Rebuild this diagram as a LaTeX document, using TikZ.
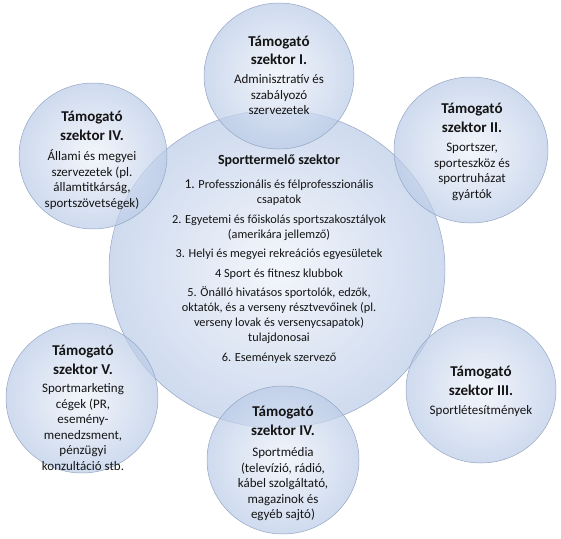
\documentclass[tikz,border=0pt]{standalone}
\usepackage{fontspec}
\setmainfont{Carlito}
\usetikzlibrary{shapes.geometric}
\definecolor{circin}{RGB}{238,242,250}
\definecolor{circout}{RGB}{186,203,231}
\definecolor{circline}{RGB}{150,166,194}
\definecolor{txtcol}{RGB}{20,20,20}
\begin{document}
\begin{tikzpicture}[x=1pt,y=-1pt,
  bubble/.style={ellipse, draw=circline, line width=0.5pt, inner color=circin, outer color=circout, fill opacity=0.7, draw opacity=1, inner sep=0pt},
  smalltxt/.style={align=center, inner sep=0pt, anchor=north, text=txtcol, font=\fontsize{13}{15.5}\selectfont},
  bigtxt/.style={align=center, inner sep=0pt, anchor=north, text=txtcol, font=\fontsize{12.3}{15}\selectfont}]
\useasboundingbox (0,0) rectangle (561,538);
\newcommand{\ttlfont}{\bfseries\fontsize{15}{15}\selectfont}
% circles
\node[bubble, minimum width=336pt, minimum height=318pt] (c0) at (277,269) {};
\node[bubble, minimum width=150pt, minimum height=146pt] (c1) at (279,76) {};
\node[bubble, minimum width=154pt, minimum height=146pt] (c2) at (471,150) {};
\node[bubble, minimum width=148pt, minimum height=146pt] (c3) at (93,156) {};
\node[bubble, minimum width=152pt, minimum height=150pt] (c4) at (82,398) {};
\node[bubble, minimum width=150pt, minimum height=146pt] (c5) at (481,390) {};
\node[bubble, minimum width=152pt, minimum height=148pt] (c6) at (283,460) {};
% texts
\node[bigtxt] (t0) at (279,154) {{\bfseries\fontsize{14}{15}\selectfont Sporttermelő szektor}\\[9pt]
{\fontsize{13.5}{15}\selectfont 1.} Professzionális és félprofesszionális\\ csapatok\\[5pt]
2. Egyetemi és főiskolás sportszakosztályok\\ (amerikára jellemző)\\[4pt]
3. Helyi és megyei rekreációs egyesületek\\[5pt]
4 Sport és fitnesz klubbok\\[4pt]
5. Önálló hivatásos sportolók, edzők,\\ oktatók, és a verseny résztvevőinek (pl.\\ verseny lovak és versenycsapatok)\\ tulajdonosai\\[5pt]
6. Események szervező};
\node[smalltxt] (t1) at (279,36) {{\ttlfont Támogató}\\[2pt]{\ttlfont szektor I.}\\[4pt]
Adminisztratív és\\ szabályozó\\ szervezetek};
\node[smalltxt] (t2) at (472,103) {{\ttlfont Támogató}\\[3pt]{\ttlfont szektor II.}\\[4pt]
Sportszer,\\ sporteszköz és\\ sportruházat\\ gyártók};
\node[smalltxt] (t3) at (92,111) {{\ttlfont Támogató}\\[3pt]{\ttlfont szektor IV.}\\[5pt]
Állami és megyei\\ szervezetek (pl.\\ államtitkárság,\\ sportszövetségek)};
\node[smalltxt] (t4) at (83,345) {{\ttlfont Támogató}\\[3pt]{\ttlfont szektor V.}\\[3pt]
Sportmarketing\\ cégek (PR,\\ esemény-\\ menedzsment,\\ pénzügyi\\ konzultáció stb.};
\node[smalltxt] (t5) at (481,366) {{\ttlfont Támogató}\\[3pt]{\ttlfont szektor III.}\\[4pt]
Sportlétesítmények};
\node[smalltxt] (t6) at (283,406) {{\ttlfont Támogató}\\[3pt]{\ttlfont szektor IV.}\\[6pt]
Sportmédia\\ (televízió, rádió,\\ kábel szolgáltató,\\ magazinok és\\ egyéb sajtó)};
\end{tikzpicture}
\end{document}
